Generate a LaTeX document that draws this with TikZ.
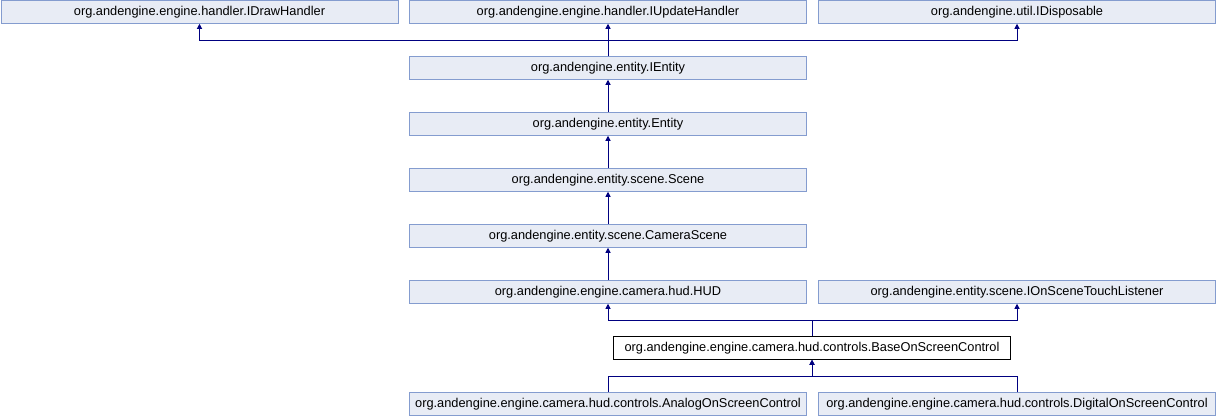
\documentclass[tikz,border=0pt]{standalone}
\usepackage{fontspec}
\setmainfont{Liberation Sans}
\usetikzlibrary{arrows.meta}
\definecolor{boxfill}{HTML}{E8ECF5}
\definecolor{boxline}{HTML}{849CCF}
\definecolor{arrowc}{HTML}{000080}
\tikzset{
  cls/.style={draw=boxline, fill=boxfill, line width=1pt, minimum width=397pt, minimum height=22.5pt, inner sep=0pt, font=\fontsize{12.8}{15}\selectfont, anchor=center},
  curcls/.style={cls, draw=black, fill=white},
  inh/.style={draw=arrowc, line width=1pt, -{Triangle[length=5pt,width=5pt]}},
}
\begin{document}
\begin{tikzpicture}[x=1pt,y=-1pt]
\useasboundingbox (0,0) rectangle (1217,416);
\node[cls] (draw) at (199.5,12) {org.andengine.engine.handler.IDrawHandler};
\node[cls] (upd) at (608,12) {org.andengine.engine.handler.IUpdateHandler};
\node[cls] (disp) at (1017,12) {org.andengine.util.IDisposable};
\node[cls] (ient) at (608,68) {org.andengine.entity.IEntity};
\node[cls] (ent) at (608,124) {org.andengine.entity.Entity};
\node[cls] (scene) at (608,180) {org.andengine.entity.scene.Scene};
\node[cls] (cam) at (608,236) {org.andengine.entity.scene.CameraScene};
\node[cls] (hud) at (608,292) {org.andengine.engine.camera.hud.HUD};
\node[cls] (touch) at (1017,292) {org.andengine.entity.scene.IOnSceneTouchListener};
\node[curcls] (base) at (812,348) {org.andengine.engine.camera.hud.controls.BaseOnScreenControl};
\node[cls] (analog) at (608,404) {org.andengine.engine.camera.hud.controls.AnalogOnScreenControl};
\node[cls] (digital) at (1017,404) {org.andengine.engine.camera.hud.controls.DigitalOnScreenControl};
\coordinate (r1) at (0,40);
\coordinate (r6) at (0,320);
\coordinate (r7) at (0,376);
\draw[inh] (ient.north) -- (ient.north |- r1) -| (draw.south);
\draw[inh] (ient.north) -- (upd.south);
\draw[inh] (ient.north) -- (ient.north |- r1) -| (disp.south);
\draw[inh] (ent.north) -- (ient.south);
\draw[inh] (scene.north) -- (ent.south);
\draw[inh] (cam.north) -- (scene.south);
\draw[inh] (hud.north) -- (cam.south);
\draw[inh] (base.north) -- (base.north |- r6) -| (hud.south);
\draw[inh] (base.north) -- (base.north |- r6) -| (touch.south);
\draw[inh] (analog.north) -- (analog.north |- r7) -| (base.south);
\draw[inh] (digital.north) -- (digital.north |- r7) -| (base.south);
\end{tikzpicture}
\end{document}
